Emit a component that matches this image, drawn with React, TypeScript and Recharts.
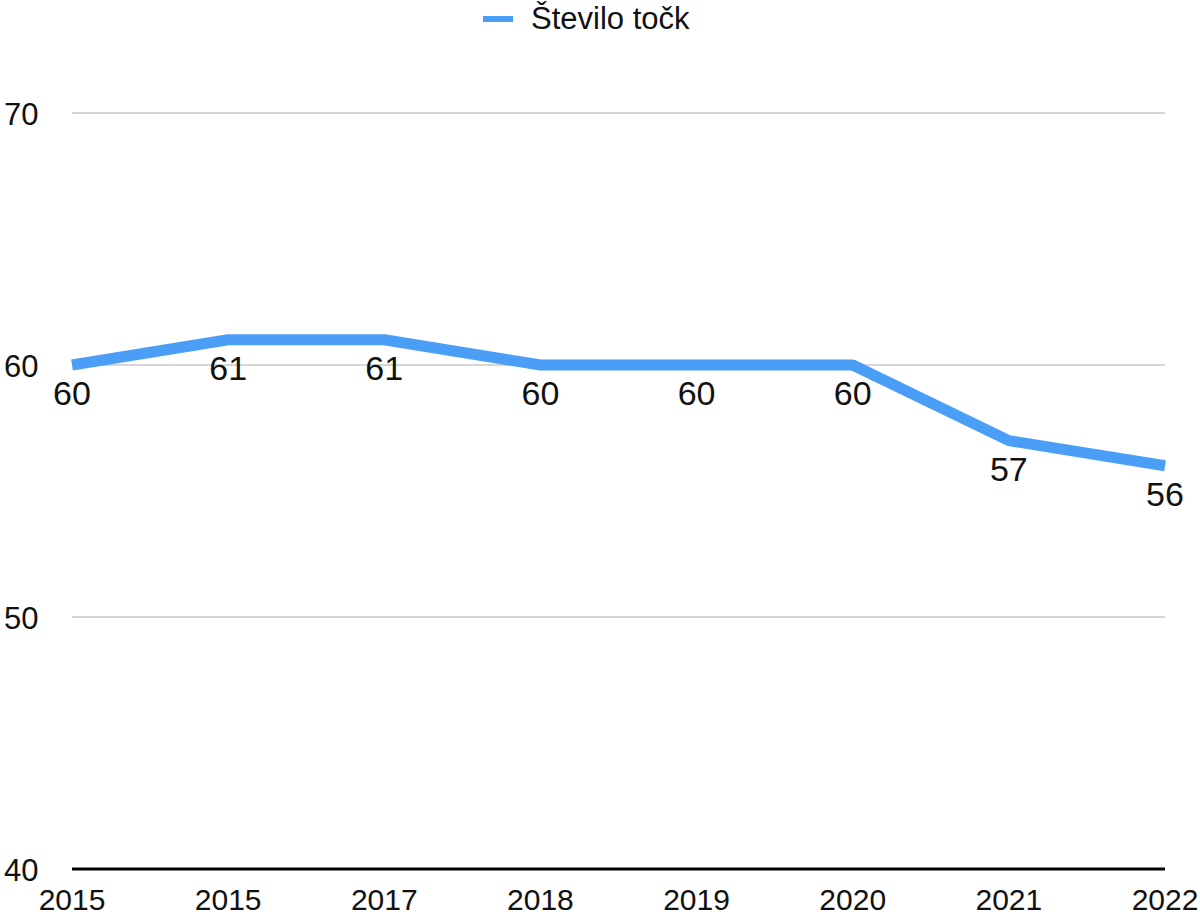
import React from 'react';
import { LineChart, Line, XAxis, YAxis, CartesianGrid, LabelList } from 'recharts';

const years = ['2015', '2015', '2017', '2018', '2019', '2020', '2021', '2022'];
const points = [60, 61, 61, 60, 60, 60, 57, 56];
const yTicks = [40, 50, 60, 70];
const seriesName = 'Število točk';

const data = years.map((y, i) => ({ year: y, value: points[i] }));

const FONT = '"Liberation Sans", Arial, Helvetica, sans-serif';
const BLUE = '#4A9EF5';

const YTick = (props: any) => {
  const { y, payload } = props;
  return (
    <text x={4} y={y} dy={12} fontSize={31} fontFamily={FONT} fill="#111" textAnchor="start">
      {payload.value}
    </text>
  );
};

const DataLabel = (props: any) => {
  const { x, y, value } = props;
  return (
    <text x={x} y={y + 28} fontSize={34} fontFamily={FONT} fill="#111" textAnchor="middle" dominantBaseline="central">
      {value}
    </text>
  );
};

export default function App() {
  return (
    <div style={{ position: 'fixed', left: 0, top: 0, width: 1200, height: 918, background: '#fff' }}>
      <div style={{ position: 'absolute', left: 483, top: 16, width: 30, height: 6, background: BLUE }} />
      <div
        style={{
          position: 'absolute',
          left: 531,
          top: 1,
          fontSize: 31,
          lineHeight: '36px',
          fontFamily: FONT,
          color: '#111',
          whiteSpace: 'nowrap',
        }}
      >
        {seriesName}
      </div>
      <LineChart width={1200} height={918} data={data} margin={{ top: 113, right: 35, bottom: 19, left: 0 }}>
        <CartesianGrid horizontal vertical={false} stroke="#c8c8c8" strokeWidth={1.5} />
        <XAxis
          dataKey="year"
          allowDuplicatedCategory
          interval={0}
          height={30}
          tickLine={false}
          tickSize={0}
          tickMargin={20}
          axisLine={{ stroke: '#000', strokeWidth: 3 }}
          tick={{ fontSize: 30, fontFamily: FONT, fill: '#111' }}
        />
        <YAxis
          domain={[40, 70]}
          ticks={yTicks}
          width={72}
          axisLine={false}
          tickLine={false}
          tick={<YTick />}
        />
        <Line
          type="linear"
          dataKey="value"
          name={seriesName}
          stroke={BLUE}
          strokeWidth={11}
          strokeLinecap="butt"
          strokeLinejoin="round"
          dot={false}
          activeDot={false}
          isAnimationActive={false}
        >
          <LabelList dataKey="value" content={<DataLabel />} />
        </Line>
      </LineChart>
    </div>
  );
}
